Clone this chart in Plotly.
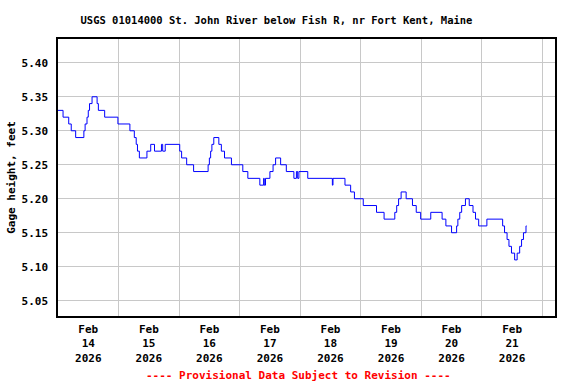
import plotly.graph_objects as go

title_text = "USGS 01014000 St. John River below Fish R, nr Fort Kent, Maine"
y_title = "Gage height, feet"
note_text = "---- Provisional Data Subject to Revision ----"

# Step-change points of the gage height series (value holds until next time)
times = [
    "2026-02-14 00:00", "2026-02-14 02:00", "2026-02-14 04:15", "2026-02-14 05:15",
    "2026-02-14 07:00", "2026-02-14 10:15", "2026-02-14 10:45", "2026-02-14 11:30",
    "2026-02-14 12:00", "2026-02-14 12:30", "2026-02-14 13:30", "2026-02-14 15:30",
    "2026-02-14 16:00", "2026-02-14 18:30", "2026-02-14 23:45",
    "2026-02-15 04:30", "2026-02-15 06:15", "2026-02-15 07:00", "2026-02-15 07:30",
    "2026-02-15 08:15", "2026-02-15 11:15", "2026-02-15 12:45", "2026-02-15 14:15",
    "2026-02-15 17:00", "2026-02-15 17:30", "2026-02-15 18:30",
    "2026-02-16 00:15", "2026-02-16 01:00", "2026-02-16 03:00", "2026-02-16 05:45",
    "2026-02-16 11:30", "2026-02-16 12:00", "2026-02-16 12:30", "2026-02-16 13:00",
    "2026-02-16 13:45", "2026-02-16 15:45", "2026-02-16 16:45", "2026-02-16 18:00",
    "2026-02-16 20:45",
    "2026-02-17 01:15", "2026-02-17 03:15", "2026-02-17 08:00", "2026-02-17 09:30",
    "2026-02-17 09:45", "2026-02-17 10:15", "2026-02-17 12:00", "2026-02-17 13:15",
    "2026-02-17 14:15", "2026-02-17 16:15", "2026-02-17 18:30", "2026-02-17 21:30",
    "2026-02-17 22:30", "2026-02-17 23:00", "2026-02-17 23:30",
    "2026-02-18 03:00", "2026-02-18 12:45", "2026-02-18 13:00", "2026-02-18 17:45",
    "2026-02-18 20:00", "2026-02-18 21:30",
    "2026-02-19 01:00", "2026-02-19 06:15", "2026-02-19 09:15", "2026-02-19 13:30",
    "2026-02-19 14:15", "2026-02-19 15:00", "2026-02-19 16:00", "2026-02-19 18:00",
    "2026-02-19 20:30", "2026-02-19 22:00", "2026-02-19 23:45",
    "2026-02-20 03:45", "2026-02-20 08:15", "2026-02-20 09:45", "2026-02-20 12:00",
    "2026-02-20 14:00", "2026-02-20 14:30", "2026-02-20 15:15", "2026-02-20 16:00",
    "2026-02-20 17:30", "2026-02-20 19:00", "2026-02-20 20:30", "2026-02-20 21:30",
    "2026-02-20 22:45",
    "2026-02-21 02:00", "2026-02-21 08:15", "2026-02-21 09:00", "2026-02-21 10:00",
    "2026-02-21 10:45", "2026-02-21 11:45", "2026-02-21 13:00", "2026-02-21 14:00",
    "2026-02-21 15:00", "2026-02-21 15:45", "2026-02-21 16:30", "2026-02-21 17:30",
    "2026-02-21 17:45",
]
gage_height = [
    5.33, 5.32, 5.31, 5.30,
    5.29, 5.30, 5.31, 5.32,
    5.33, 5.34, 5.35, 5.34,
    5.33, 5.32, 5.31,
    5.30, 5.29, 5.28, 5.27,
    5.26, 5.27, 5.28, 5.27,
    5.28, 5.27, 5.28,
    5.27, 5.26, 5.25, 5.24,
    5.25, 5.26, 5.27, 5.28,
    5.29, 5.28, 5.27, 5.26,
    5.25,
    5.24, 5.23, 5.22, 5.23,
    5.22, 5.23, 5.24, 5.25,
    5.26, 5.25, 5.24, 5.23,
    5.24, 5.23, 5.24,
    5.23, 5.22, 5.23, 5.22,
    5.21, 5.20,
    5.19, 5.18, 5.17, 5.18,
    5.19, 5.20, 5.21, 5.20,
    5.19, 5.18, 5.17,
    5.18, 5.17, 5.16, 5.15,
    5.16, 5.17, 5.18, 5.19,
    5.20, 5.19, 5.18, 5.17,
    5.16,
    5.17, 5.16, 5.15, 5.14,
    5.13, 5.12, 5.11, 5.12,
    5.13, 5.14, 5.15, 5.16,
    5.16,
]

y_ticks = [5.05, 5.10, 5.15, 5.20, 5.25, 5.30, 5.35, 5.40]
x_range = ["2026-02-14 00:00", "2026-02-22 05:00"]
y_range = [5.0275, 5.435]

font_family = "DejaVu Sans Mono"

fig = go.Figure()
fig.add_trace(go.Scatter(
    x=times, y=gage_height, mode="lines", line_shape="hv",
    line=dict(color="#0000ff", width=1), showlegend=False,
))

fig.update_layout(
    width=576, height=384,
    margin=dict(l=58, r=21, t=39, b=68, autoexpand=False),
    paper_bgcolor="white", plot_bgcolor="white",
    font=dict(family=font_family, size=11, color="black", weight="bold"),
    title=dict(text=title_text, x=0.48, xanchor="center", y=0.948, yanchor="middle",
               font=dict(family=font_family, size=10.5, color="black", weight="bold")),
    xaxis=dict(
        type="date", range=x_range, tick0="2026-02-14 00:00", dtick=86400000,
        tickformat="%b<br>%d<br>%Y", ticklabelmode="period", automargin=False,
        showgrid=True, gridcolor="#c8c8c8", gridwidth=1,
        ticks="", showline=True, linecolor="black", linewidth=1.5, mirror=True,
        zeroline=False, ticklabelstandoff=2,
    ),
    yaxis=dict(
        range=y_range, tickvals=y_ticks, ticktext=[f"{v:.2f}" for v in y_ticks],
        showgrid=True, gridcolor="#c8c8c8", gridwidth=1, automargin=False,
        ticks="", showline=True, linecolor="black", linewidth=1.5, mirror=True,
        zeroline=False, ticklabelstandoff=6,
        title=dict(text=y_title, standoff=4,
                   font=dict(family=font_family, size=11, color="black", weight="bold")),
    ),
    annotations=[dict(
        text=note_text, xref="paper", yref="paper", x=0.483, y=-0.213,
        xanchor="center", yanchor="middle", showarrow=False,
        font=dict(family=font_family, size=11, color="#ff0000", weight="bold"),
    )],
)

fig.write_html("out.html", config={"displayModeBar": False},
               post_script="document.body.style.margin='0';")
